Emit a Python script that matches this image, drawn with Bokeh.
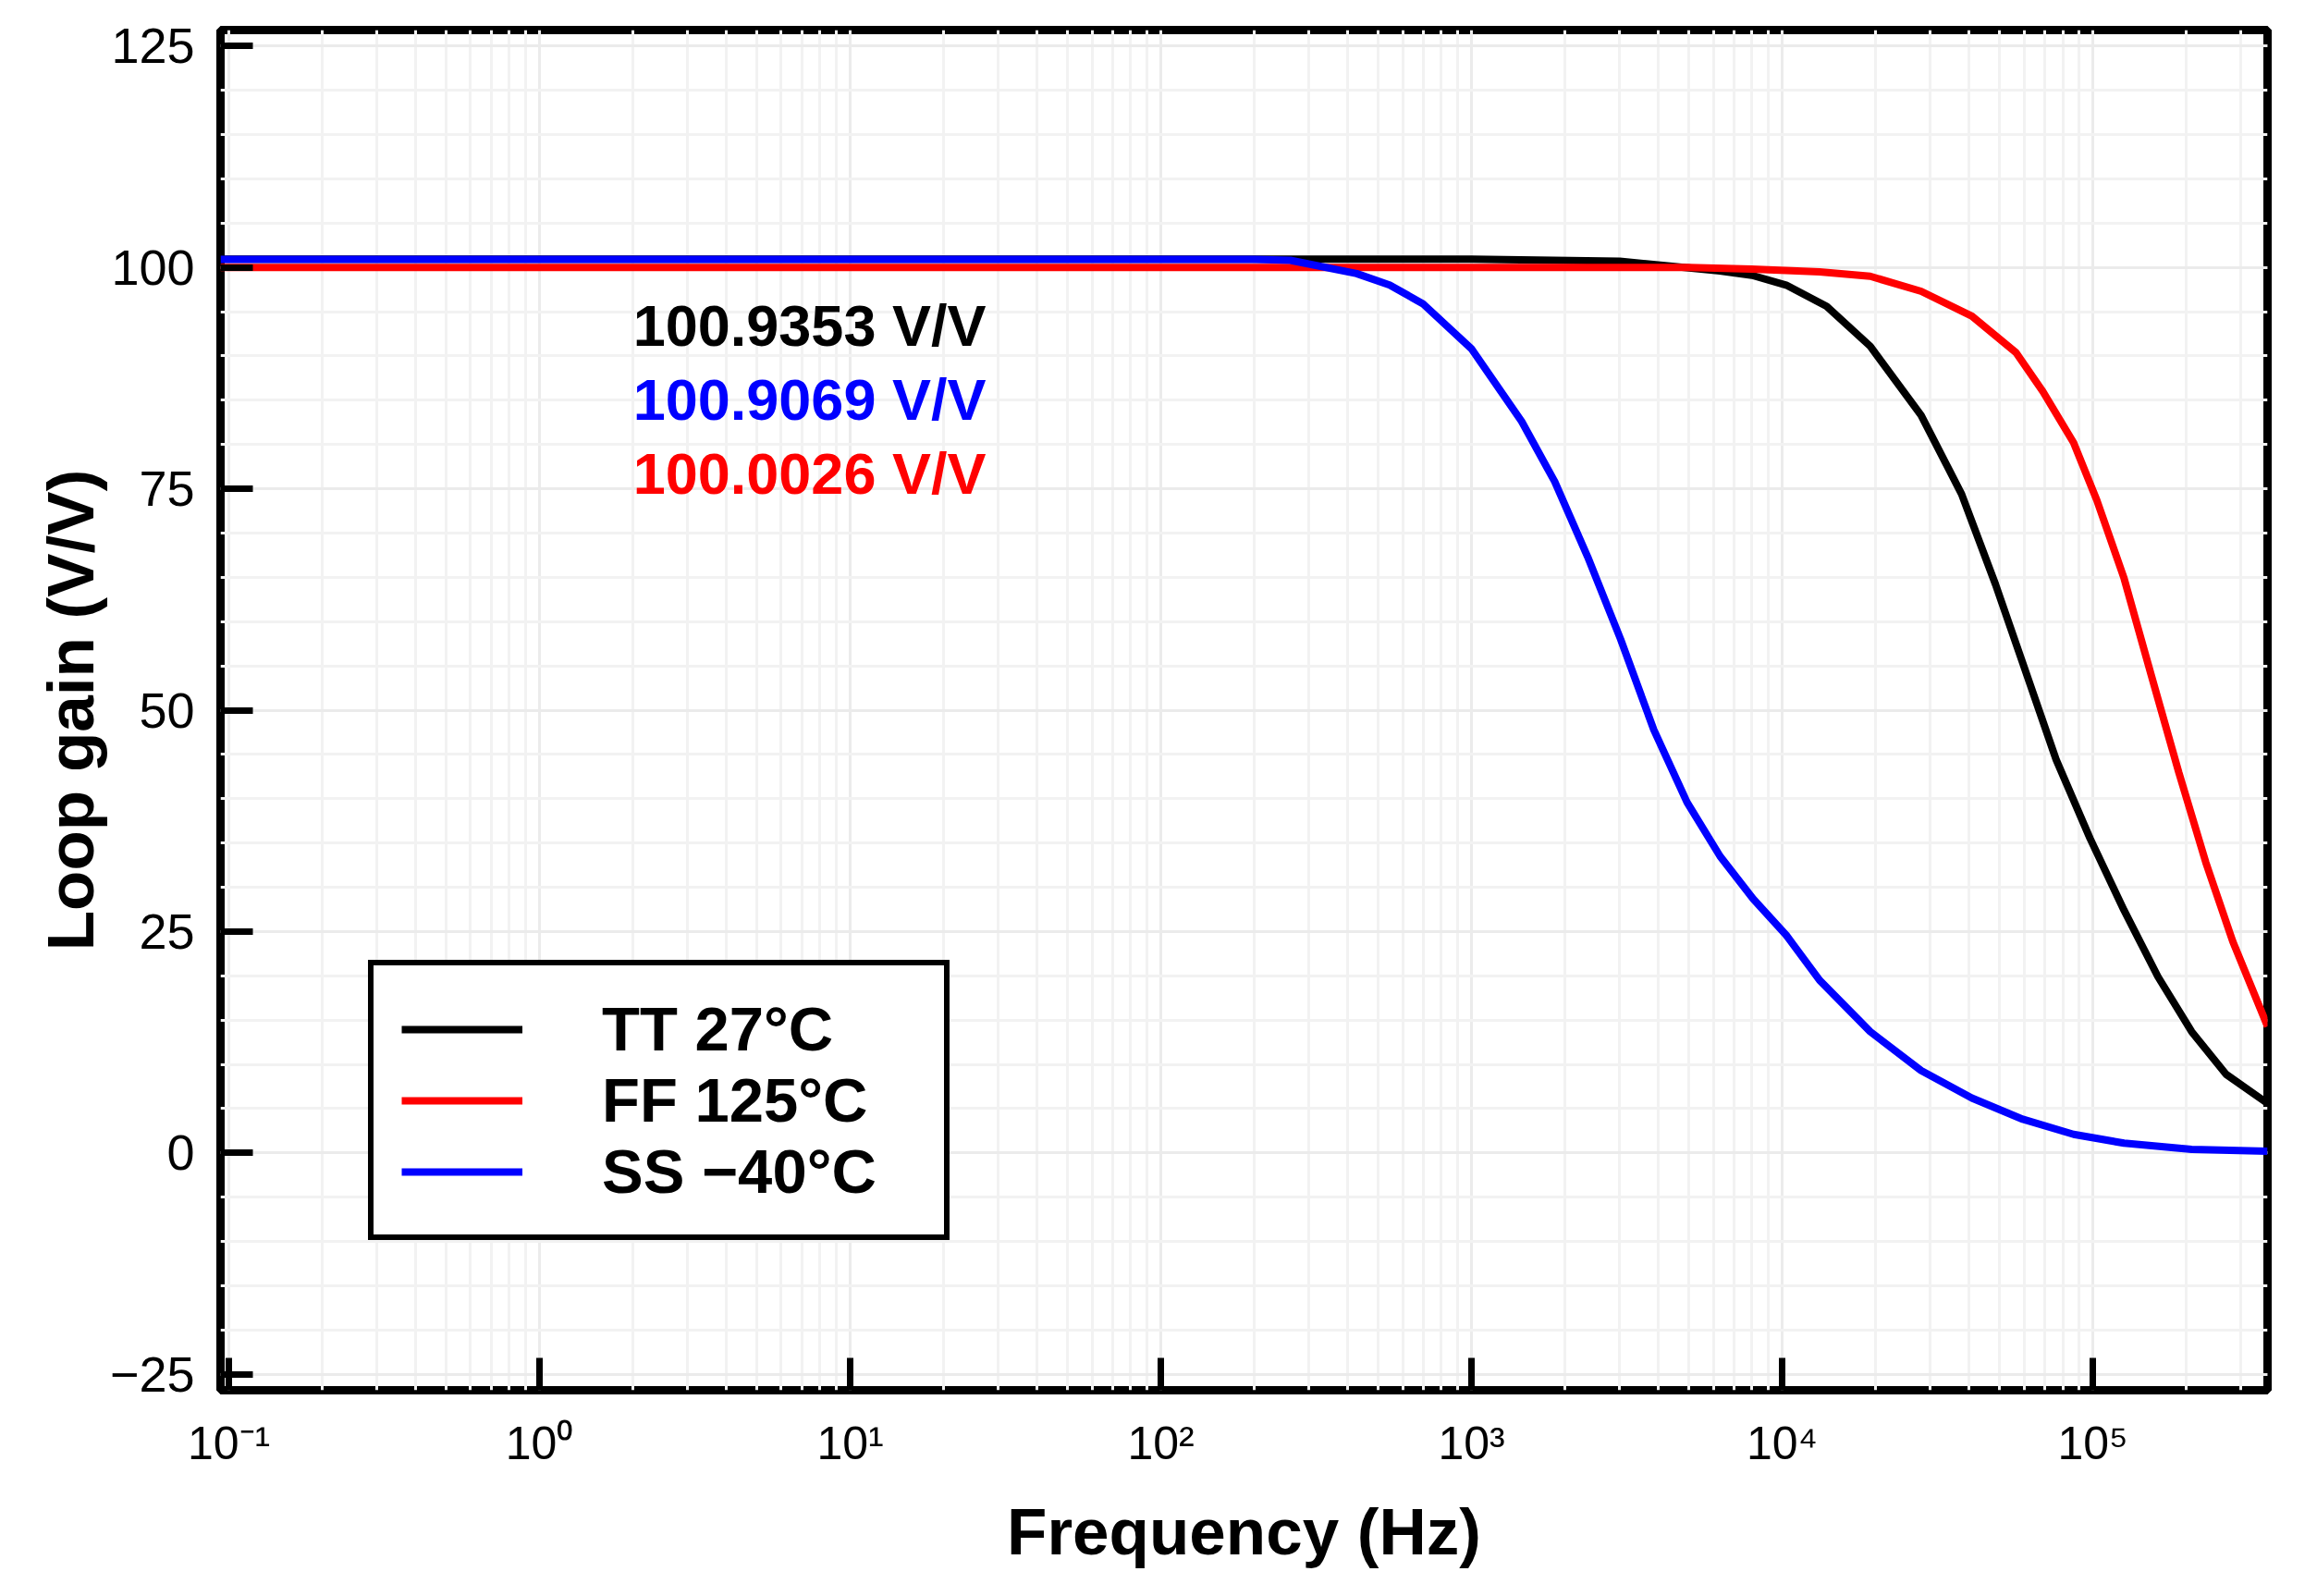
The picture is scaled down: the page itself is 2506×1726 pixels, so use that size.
from bokeh.plotting import figure
from bokeh.models import Range1d, FixedTicker, CustomJSTickFormatter, Label
from bokeh.embed import file_html
from bokeh.resources import INLINE

# loop gain (V/V) against frequency (Hz)
tt_freq = [0.094, 1000, 3000, 6300, 8000, 10300, 13900, 19200, 28000, 37800,
           48600, 59500, 76200, 98000, 126000, 162000, 208000, 268000, 365000]
tt_gain = [100.94, 100.93, 100.7, 99.6, 99.1, 98.0, 95.6, 91.1, 83.3, 74.4,
           64.2, 55.3, 44.4, 35.5, 27.4, 19.9, 13.7, 8.9, 5.6]

ff_freq = [0.094, 5000, 7980, 13200, 19200, 28000, 40800, 56500, 69000, 86700,
           103000, 126000, 154000, 189000, 231000, 282000, 365000]
ff_gain = [100.0, 100.0, 99.8, 99.5, 99.0, 97.3, 94.5, 90.4, 86.0, 80.2,
           73.7, 64.9, 54.0, 43.0, 32.8, 23.9, 14.3]

ss_freq = [0.094, 200, 261, 427, 545, 697, 1000, 1450, 1853, 2366, 3020, 3860,
           4940, 6310, 8060, 10300, 13200, 19200, 28000, 40800, 59500, 86700,
           126000, 208000, 365000]
ss_gain = [100.91, 100.9, 100.8, 99.3, 98.0, 95.9, 90.8, 82.6, 75.8, 67.3, 58.0, 47.8,
           39.6, 33.5, 28.7, 24.6, 19.5, 13.7, 9.3, 6.2, 3.8, 2.1,
           1.1, 0.4, 0.2]

x_ticks = [0.1, 1.0, 10.0, 100.0, 1000.0, 10000.0, 100000.0]
x_tick_labels = ["10⁻¹", "10⁰", "10¹", "10²", "10³", "10⁴", "10⁵"]
y_ticks = [-25, 0, 25, 50, 75, 100, 125]
y_tick_labels = ["−25", "0", "25", "50", "75", "100", "125"]

dc_labels = ["100.9353 V/V", "100.9069 V/V", "100.0026 V/V"]
dc_colors = ["#000000", "#0000ff", "#ff0000"]

FONT = "Liberation Sans"

p = figure(width=2490, height=1710, x_axis_type="log",
           x_range=Range1d(0.094, 3.65e5), y_range=Range1d(-26.8, 126.8),
           output_backend="svg", toolbar_location=None,
           min_border_left=238, min_border_right=38,
           min_border_top=32, min_border_bottom=207)

p.outline_line_color = "black"
p.outline_line_width = 9
p.outline_line_alpha = 1.0

p.line(tt_freq, tt_gain, line_color="#000000", line_width=8, legend_label="TT 27°C")
p.line(ff_freq, ff_gain, line_color="#ff0000", line_width=8, legend_label="FF 125°C")
p.line(ss_freq, ss_gain, line_color="#0000ff", line_width=8, legend_label="SS −40°C")

# DC gain readouts
for i, (txt, col) in enumerate(zip(dc_labels, dc_colors)):
    p.add_layout(Label(x=2.0, y=93.4 - 8.35 * i, text=txt, text_color=col,
                       text_font=FONT, text_font_size="63px", text_font_style="bold",
                       text_baseline="alphabetic"))

label_js = "const i = vals.indexOf(tick); return i >= 0 ? labs[i] : '';"

x_minor = [m * 10.0 ** e for e in range(-2, 6) for m in range(2, 10)]
p.xaxis.ticker = FixedTicker(ticks=x_ticks, minor_ticks=x_minor)
p.xaxis.formatter = CustomJSTickFormatter(args=dict(vals=x_ticks, labs=x_tick_labels), code=label_js)
p.yaxis.ticker = FixedTicker(ticks=y_ticks, minor_ticks=list(range(-25, 130, 5)))
p.yaxis.formatter = CustomJSTickFormatter(args=dict(vals=y_ticks, labs=y_tick_labels), code=label_js)

for ax in (p.xaxis, p.yaxis):
    ax.axis_line_color = None
    ax.major_tick_in = 35
    ax.major_tick_out = 0
    ax.major_tick_line_width = 7
    ax.major_tick_line_color = "black"
    ax.minor_tick_line_color = None
    ax.major_label_text_font = FONT
    ax.major_label_text_color = "black"
    ax.axis_label_text_font = FONT
    ax.axis_label_text_font_size = "71px"
    ax.axis_label_text_font_style = "bold"
    ax.axis_label_text_color = "black"

p.xaxis.major_label_text_font_size = "50px"
p.xaxis.major_label_standoff = 25
p.xaxis.axis_label = "Frequency (Hz)"
p.xaxis.axis_label_standoff = 25
p.yaxis.major_label_text_font_size = "54px"
p.yaxis.major_label_standoff = 24
p.yaxis.axis_label = "Loop gain (V/V)"
p.yaxis.axis_label_standoff = 0

for g in (p.xgrid, p.ygrid):
    g.grid_line_color = "#ebebeb"
    g.grid_line_width = 3
    g.minor_grid_line_color = "#f2f2f2"
    g.minor_grid_line_width = 3

lg = p.legend[0]
lg.location = (160, 162)
lg.margin = 0
lg.padding = 30
lg.spacing = 0
lg.glyph_width = 131
lg.glyph_height = 76
lg.label_height = 76
lg.label_width = 340
lg.label_standoff = 86
lg.label_text_font = FONT
lg.label_text_font_size = "67px"
lg.label_text_font_style = "bold"
lg.label_text_color = "black"
lg.border_line_color = "black"
lg.border_line_alpha = 1.0
lg.border_line_width = 6
lg.background_fill_alpha = 1.0

open("out.html", "w").write(file_html(p, INLINE))
